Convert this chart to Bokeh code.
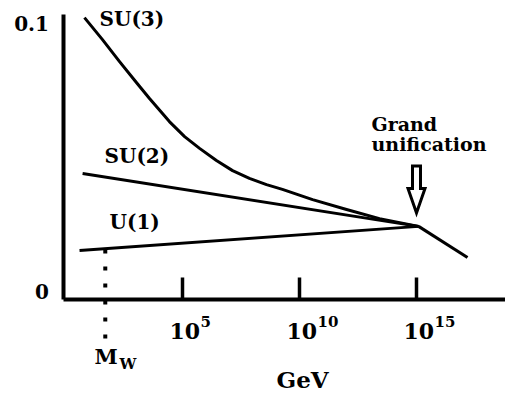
from bokeh.plotting import figure
from bokeh.models import Range1d, FixedTicker, LinearAxis
from bokeh.core.properties import value
from bokeh.embed import file_html
from bokeh.resources import INLINE

# ---------------- data (x = log10(E / GeV), y = coupling) ----------------
su3_log = [0.81, 1.58, 2.31, 3.03, 3.59, 4.44, 5.09, 5.73, 6.45, 7.14, 7.86, 8.59, 9.27, 10.56, 12.01, 13.42, 15.09]
su3_val = [0.1022, 0.0940, 0.0858, 0.0780, 0.0720, 0.0634, 0.0578, 0.0534, 0.0489, 0.0451,
           0.0422, 0.0399, 0.0381, 0.0343, 0.0306, 0.0272, 0.0243]
su2_log = [0.73, 15.09]
su2_val = [0.0440, 0.0243]
u1_log = [0.60, 15.09]
u1_val = [0.0153, 0.0243]
gut_log = [15.09, 17.18]
gut_val = [0.0243, 0.0127]
mw_log = 1.7
x_tick_exponents = [5, 10, 15]
x_tick_sup = ["5", "10", "15"]
y_ticks = [0, 0.1]
y_tick_labels = ["0", "0.1"]
series_names = ["SU(3)", "SU(2)", "U(1)"]

# ---------------- scales (pixel helpers for annotations) ----------------
W, H = 505, 393
ORIGIN = 1              # page pixel at which the figure starts
PX_X = 1 / 23.4         # decades per pixel
PX_Y = 1 / 2680.0       # coupling per pixel
X0 = 5 + (ORIGIN - 183) * PX_X
X1 = X0 + W * PX_X
Y1 = (292 - ORIGIN) * PX_Y
Y0 = Y1 - H * PX_Y
axis_y = -8 * PX_Y                  # bottom axis location
left_x = 5 + (63.5 - 183) * PX_X    # left axis location
top_v = 277 * PX_Y

FONT_NAME = "DejaVu Serif"
FONT = value(FONT_NAME)

p = figure(width=W, height=H, x_range=Range1d(X0, X1), y_range=Range1d(Y0, Y1),
           output_backend="svg", toolbar_location=None, min_border=0,
           x_axis_type=None, y_axis_type=None)
p.outline_line_color = None
p.background_fill_color = "white"

xaxis = LinearAxis(ticker=FixedTicker(ticks=x_tick_exponents), fixed_location=axis_y,
                   bounds=(left_x, X1), major_tick_in=22, major_tick_out=0,
                   minor_tick_line_color=None, axis_line_width=4, major_tick_line_width=3.5,
                   major_label_overrides={t: "" for t in x_tick_exponents})
p.add_layout(xaxis, "below")

yaxis = LinearAxis(ticker=FixedTicker(ticks=y_ticks), fixed_location=left_x,
                   bounds=(axis_y, top_v), major_tick_in=0, major_tick_out=0,
                   minor_tick_line_color=None, axis_line_width=4,
                   major_label_overrides=dict(zip(y_ticks, y_tick_labels)),
                   major_label_standoff=14, major_label_text_font=FONT_NAME,
                   major_label_text_font_style="bold", major_label_text_font_size="20px",
                   major_label_text_color="black")
p.add_layout(yaxis, "left")

# curves
for xs, ys in [(su3_log, su3_val), (su2_log, su2_val), (u1_log, u1_val), (gut_log, gut_val)]:
    p.line(xs, ys, line_color="black", line_width=3, line_join="round")

# M_W dotted line
p.segment(x0=[mw_log], y0=[(292 - 250) * PX_Y], x1=[mw_log], y1=[(292 - 340) * PX_Y],
          line_color="black", line_width=4, line_dash="4 13")

# hollow arrow at grand unification
gx = x_tick_exponents[-1]
ax = [gx - 4 * PX_X, gx + 4 * PX_X, gx + 4 * PX_X, gx + 8.5 * PX_X, gx, gx - 8.5 * PX_X, gx - 4 * PX_X]
ay = [v * PX_Y for v in [292 - 166.5, 292 - 166.5, 292 - 189, 292 - 189, 292 - 213.5, 292 - 189, 292 - 189]]
p.patch(ax, ay, fill_color="white", line_color="black", line_width=3, line_join="miter")

def txt(x, y, t, size, align="left", baseline="middle"):
    p.text(x=x, y=y, text=t, text_font=FONT, text_font_style="bold",
           text_font_size=size, text_baseline=baseline, text_align=align, text_color="black")

def lx(px):
    return 5 + (px - 183) * PX_X

def ly(py):
    return (292 - py) * PX_Y

# series labels
txt([lx(100), lx(105), lx(110)], [ly(19), ly(156), ly(222)], series_names, "20px")
txt([lx(372), lx(372)], [ly(124), ly(144)], ["Grand", "unification"], "19px")

# x tick labels 10^n
txt([e - 13 * PX_X for e in x_tick_exponents], [ly(331)] * 3, ["10"] * 3, "22px")
txt([e + 18 * PX_X for e in x_tick_exponents], [ly(322)] * 3, x_tick_sup, "15px")

# axis title and M_W
txt([lx(277)], [ly(380)], ["GeV"], "23px")
txt([lx(95)], [ly(357)], ["M"], "21px")
txt([lx(120)], [ly(364)], ["W"], "15px")

open("out.html", "w").write(file_html(p, INLINE))
